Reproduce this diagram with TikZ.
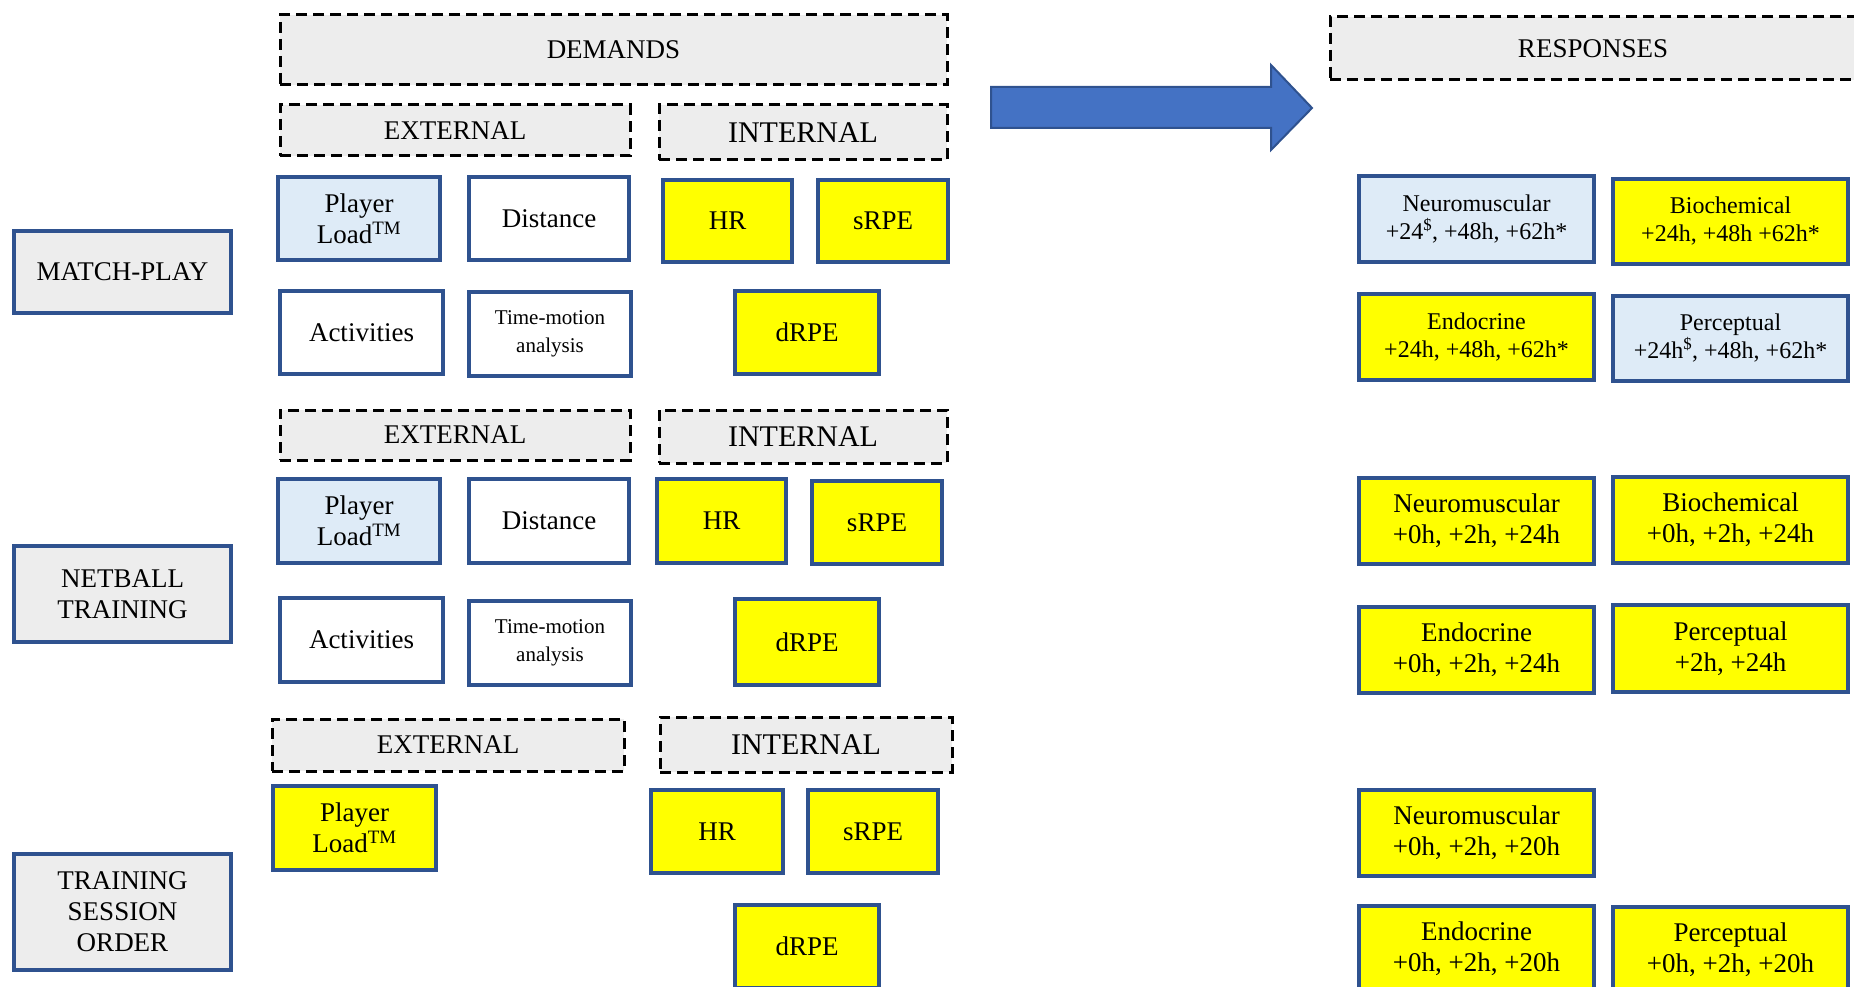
\documentclass[tikz,border=0pt]{standalone}
\usepackage{fontspec}
\setmainfont{Liberation Serif}
\definecolor{bordblue}{HTML}{2F528F}
\definecolor{lgray}{HTML}{EDEDED}
\definecolor{lblue}{HTML}{DEEBF7}
\definecolor{yel}{HTML}{FFFF00}
\definecolor{arrblue}{HTML}{4472C4}
\newcommand\bx[7]{\node[#2, minimum width={(#5-#3)*1pt}, minimum height={(#6-#4)*1pt}] (#1) at ({(#3+#5)/2},{(#4+#6)/2}) {#7};}
\tikzset{
  base/.style={rectangle, inner sep=0pt, outer sep=0pt, align=center, font=\fontsize{27}{31}\selectfont},
  dashbox/.style={base, draw=black, fill=lgray, line width=3pt, dash pattern=on 11pt off 6pt},
  intbox/.style={dashbox, font=\fontsize{30}{34}\selectfont},
  catbox/.style={base, draw=bordblue, fill=lgray, line width=3.4pt},
  bluebox/.style={base, draw=bordblue, fill=lblue, line width=3.4pt},
  whitebox/.style={base, draw=bordblue, fill=white, line width=3.4pt},
  yelbox/.style={base, draw=bordblue, fill=yel, line width=3.4pt},
  small/.style={font=\fontsize{21}{28}\selectfont},
  resp/.style={font=\fontsize{24}{28}\selectfont},
}
\begin{document}
\begin{tikzpicture}[x=1pt,y=-1pt]
\useasboundingbox (0,0) rectangle (1854,987);
% headers
\bx{demands}{dashbox}{280}{15}{947}{85}{DEMANDS}
\bx{responses}{dashbox}{1330}{17}{1860}{80}{\hspace*{-4pt}RESPONSES}
% big arrow
\draw[draw=bordblue, fill=arrblue, line width=2pt, line join=miter]
  (991,87) -- (1271,87) -- (1271,65) -- (1312,108) -- (1271,150) -- (1271,128) -- (991,128) -- cycle;
% row labels
\bx{match}{catbox}{14}{231}{231}{313}{MATCH-PLAY}
\bx{netball}{catbox}{14}{546}{231}{642}{NETBALL\\TRAINING}
\bx{order}{catbox}{14}{854}{231}{970}{TRAINING\\SESSION\\ORDER}
% section 1
\bx{ext1}{dashbox}{280}{105}{630}{156}{EXTERNAL}
\bx{int1}{intbox}{659}{105}{947}{160}{INTERNAL}
\bx{pl1}{bluebox}{278}{177}{440}{260}{Player\\Load\textsuperscript{TM}}
\bx{dist1}{whitebox}{469}{177}{629}{260}{Distance}
\bx{hr1}{yelbox}{663}{180}{792}{262}{HR}
\bx{srpe1}{yelbox}{818}{180}{948}{262}{sRPE}
\bx{act1}{whitebox}{280}{291}{443}{374}{Activities}
\bx{tm1}{whitebox,small}{469}{292}{631}{376}{Time-motion\\analysis}
\bx{drpe1}{yelbox}{735}{291}{879}{374}{dRPE}
\bx{nm1}{bluebox,resp}{1359}{176}{1594}{262}{Neuromuscular\\+24\textsuperscript{\$}, +48h, +62h*}
\bx{bc1}{yelbox,resp}{1613}{179}{1848}{264}{Biochemical\\+24h, +48h +62h*}
\bx{en1}{yelbox,resp}{1359}{294}{1594}{380}{Endocrine\\+24h, +48h, +62h*}
\bx{pc1}{bluebox,resp}{1613}{296}{1848}{381}{Perceptual\\+24h\textsuperscript{\$}, +48h, +62h*}
% section 2
\bx{ext2}{dashbox}{280}{410}{630}{460}{EXTERNAL}
\bx{int2}{intbox}{659}{410}{947}{463}{INTERNAL}
\bx{pl2}{bluebox}{278}{479}{440}{563}{Player\\Load\textsuperscript{TM}}
\bx{dist2}{whitebox}{469}{479}{629}{563}{Distance}
\bx{hr2}{yelbox}{657}{479}{786}{563}{HR}
\bx{srpe2}{yelbox}{812}{481}{942}{564}{sRPE}
\bx{act2}{whitebox}{280}{598}{443}{682}{Activities}
\bx{tm2}{whitebox,small}{469}{601}{631}{685}{Time-motion\\analysis}
\bx{drpe2}{yelbox}{735}{599}{879}{685}{dRPE}
\bx{nm2}{yelbox}{1359}{478}{1594}{564}{Neuromuscular\\+0h, +2h, +24h}
\bx{bc2}{yelbox}{1613}{477}{1848}{563}{Biochemical\\+0h, +2h, +24h}
\bx{en2}{yelbox}{1359}{607}{1594}{693}{Endocrine\\+0h, +2h, +24h}
\bx{pc2}{yelbox}{1613}{605}{1848}{692}{Perceptual\\+2h, +24h}
% section 3
\bx{ext3}{dashbox}{272}{719}{624}{771}{EXTERNAL}
\bx{int3}{intbox}{660}{717}{952}{772}{INTERNAL}
\bx{pl3}{yelbox}{273}{786}{436}{870}{Player\\Load\textsuperscript{TM}}
\bx{hr3}{yelbox}{651}{790}{783}{873}{HR}
\bx{srpe3}{yelbox}{808}{790}{938}{873}{sRPE}
\bx{drpe3}{yelbox}{735}{905}{879}{988}{dRPE}
\bx{nm3}{yelbox}{1359}{790}{1594}{876}{Neuromuscular\\+0h, +2h, +20h}
\bx{en3}{yelbox}{1359}{906}{1594}{992}{Endocrine\\+0h, +2h, +20h}
\bx{pc3}{yelbox}{1613}{907}{1848}{993}{Perceptual\\+0h, +2h, +20h}
\end{tikzpicture}
\end{document}
